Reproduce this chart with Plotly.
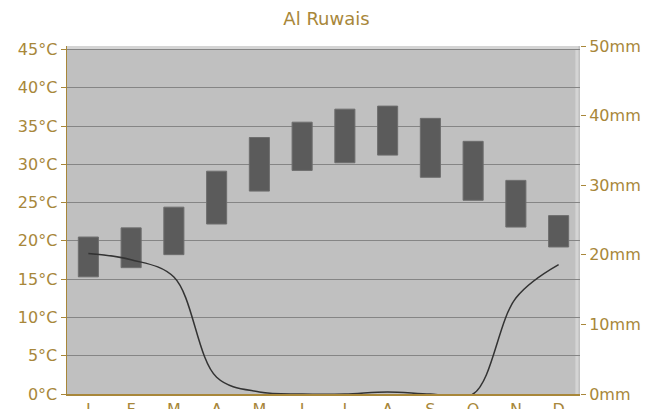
import plotly.graph_objects as go

months = ["J", "F", "M", "A", "M", "J", "J", "A", "S", "O", "N", "D"]
temp_max = [20.5, 21.7, 24.4, 29.1, 33.5, 35.5, 37.2, 37.6, 36.0, 33.0, 27.9, 23.3]
temp_min = [15.3, 16.5, 18.2, 22.2, 26.5, 29.2, 30.2, 31.2, 28.3, 25.3, 21.8, 19.2]
precip = [20.2, 19.3, 16.8, 2.4, 0.3, 0.0, 0.0, 0.3, 0.0, 0.0, 13.8, 18.6]
temp_ticks = [0, 5, 10, 15, 20, 25, 30, 35, 40, 45]
precip_ticks = [0, 10, 20, 30, 40, 50]

GOLD = "#a8873a"
FONT = "DejaVu Sans"
xs = list(range(len(months)))

fig = go.Figure()
fig.add_trace(go.Bar(
    x=xs,
    y=[hi - lo for hi, lo in zip(temp_max, temp_min)],
    base=temp_min,
    width=0.47,
    marker=dict(color="#5b5b5b", line=dict(color="#6e6e6e", width=1)),
    yaxis="y",
    showlegend=False,
    hoverinfo="skip",
))
fig.add_trace(go.Scatter(
    x=xs,
    y=precip,
    mode="lines",
    line=dict(color="#333333", width=1.5, shape="spline", smoothing=1.0),
    yaxis="y2",
    showlegend=False,
    hoverinfo="skip",
))

fig.update_layout(
    width=653,
    height=409,
    margin=dict(l=67, r=73, t=46, b=15, autoexpand=False),
    paper_bgcolor="white",
    plot_bgcolor="#c0c0c0",
    font=dict(family=FONT, size=16, color=GOLD),
    title=dict(
        text="Al Ruwais",
        x=0.5, xref="container", xanchor="center",
        y=1 - 19 / 409, yref="container", yanchor="middle",
        font=dict(family=FONT, size=18, color=GOLD),
        automargin=False,
    ),
    bargap=0,
    xaxis=dict(
        range=[-0.5, 11.5],
        tickvals=xs,
        ticktext=months,
        showgrid=False,
        zeroline=False,
        showline=True,
        linecolor=GOLD,
        linewidth=1.5,
        ticks="",
        tickfont=dict(family=FONT, size=16, color=GOLD),
        automargin=False,
        fixedrange=True,
    ),
    yaxis=dict(
        range=[0, 45.45],
        tickvals=temp_ticks,
        ticktext=[f"{t}°C" for t in temp_ticks],
        showgrid=True,
        gridcolor="#858585",
        gridwidth=1,
        zeroline=False,
        showline=True,
        linecolor=GOLD,
        linewidth=1.5,
        ticks="outside",
        ticklen=5,
        tickcolor=GOLD,
        tickfont=dict(family=FONT, size=16, color=GOLD),
        automargin=False,
    ),
    yaxis2=dict(
        range=[0, 50],
        overlaying="y",
        side="right",
        tickvals=precip_ticks,
        ticktext=[f"{t}mm" for t in precip_ticks],
        showgrid=False,
        zeroline=False,
        showline=False,
        ticks="outside",
        ticklen=5,
        tickcolor=GOLD,
        tickfont=dict(family=FONT, size=16, color=GOLD),
        automargin=False,
    ),
    shapes=[
        dict(type="path", xref="paper", yref="paper",
             path="M 0,0.996 L 0.994,0.996 L 0.994,0",
             line=dict(color="#d4d4d4", width=3), layer="below"),
    ],
)

fig.write_html(
    "out.html",
    config={"displayModeBar": False, "staticPlot": True},
    post_script="document.body.style.margin='0';document.body.style.overflow='hidden';",
)
